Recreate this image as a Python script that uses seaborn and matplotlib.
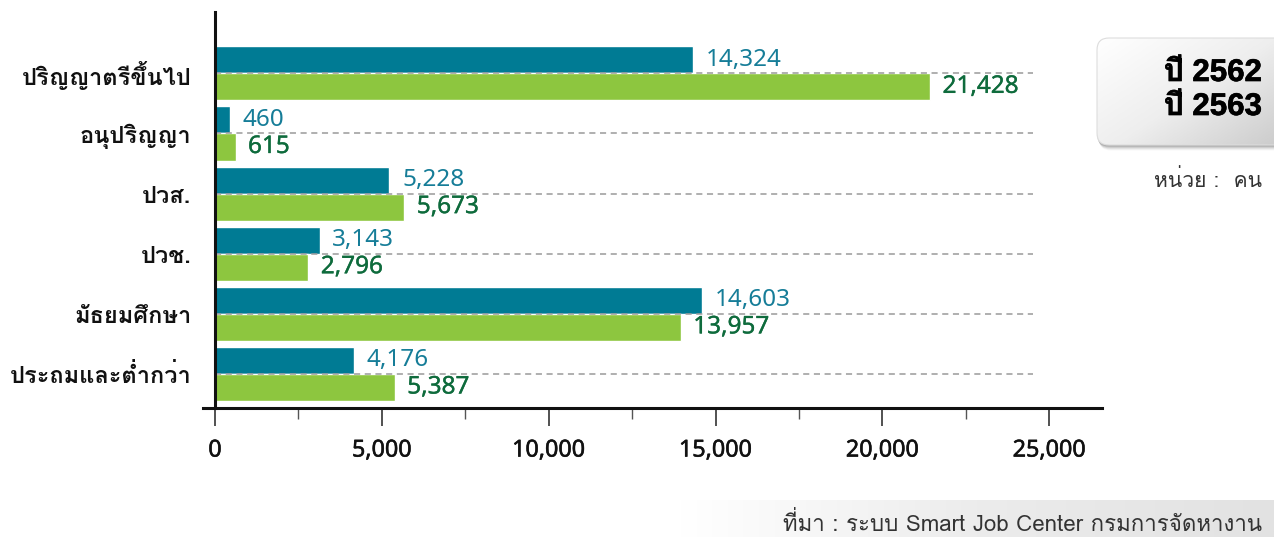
import numpy as np
import pandas as pd
import matplotlib
matplotlib.use("Agg")
import matplotlib.pyplot as plt
import seaborn as sns
from matplotlib import font_manager as fm
from matplotlib.ft2font import FT2Font
from matplotlib.ticker import MultipleLocator, FuncFormatter
from matplotlib.patches import FancyBboxPatch
from matplotlib.colors import LinearSegmentedColormap
import matplotlib.patheffects as pe

# ---------------- data ----------------
categories = ["ปริญญาตรีขึ้นไป", "อนุปริญญา", "ปวส.", "ปวช.", "มัธยมศึกษา", "ประถมและต่ำกว่า"]
years = ["ปี 2562", "ปี 2563"]
values_2562 = [14324, 460, 5228, 3143, 14603, 4176]
values_2563 = [21428, 615, 5673, 2796, 13957, 5387]
x_ticks = [0, 5000, 10000, 15000, 20000, 25000]
unit_text = "หน่วย :  คน"
source_text = "ที่มา : ระบบ Smart Job Center กรมการจัดหางาน"

# ---------------- fonts ----------------
def find_thai_font():
    prefs = ["Loma", "Tahoma", "Noto Sans Thai", "Noto Sans Thai UI", "Sarabun", "Garuda",
             "Waree", "Tlwg Typo", "Umpush", "Kinnari", "Norasi", "Laksaman", "Sawasdee", "Purisa"]
    found = {}
    for fe in fm.fontManager.ttflist:
        try:
            cmap = FT2Font(fe.fname).get_charmap()
        except Exception:
            continue
        if 0x0E1B in cmap and 0x0E35 in cmap:
            w = fe.weight if isinstance(fe.weight, int) else 400
            found.setdefault(fe.name, set()).add(w)
    with_bold = [n for n, ws in found.items() if max(ws) >= 600]
    for p in prefs:
        if p in with_bold:
            return p, True
    if with_bold:
        return with_bold[0], True
    for p in prefs:
        if p in found:
            return p, False
    return (next(iter(found)) if found else None), False

thai, thai_has_bold = find_thai_font()
thai_family = ([thai] if thai else []) + ["Noto Sans", "DejaVu Sans"]
num_family = ["Noto Sans", "DejaVu Sans"]
legend_family = ["Liberation Sans"] + ([thai] if thai else []) + ["DejaVu Sans"]

sns.set_theme(style="white")
plt.rcParams["font.family"] = thai_family

teal = "#007B94"
green = "#8DC63F"
teal_txt = "#167D98"
green_txt = "#0E6B3C"

def bold_fx(color, lw):
    if thai_has_bold:
        return []
    return [pe.withStroke(linewidth=lw, foreground=color)]

df = pd.DataFrame({
    "category": categories * 2,
    "year": [years[0]] * len(categories) + [years[1]] * len(categories),
    "value": values_2562 + values_2563,
})

W, H = 1274, 537
fig = plt.figure(figsize=(W / 100, H / 100), dpi=100)
fig.patch.set_facecolor("white")

ax_l, ax_r = 203, 1101.7
ax_t, ax_b = 11.7, 408
ax = fig.add_axes([ax_l / W, (H - ax_b) / H, (ax_r - ax_l) / W, (ax_b - ax_t) / H])

sns.barplot(data=df, y="category", x="value", hue="year", orient="h",
            palette=[teal, green], width=0.9, saturation=1, legend=False,
            ax=ax, zorder=2)

ax.set_xlim(-(215 - ax_l) / 33.37 * 1000, (ax_r - 215) / 33.37 * 1000)
ax.set_ylim(5.566, -1.025)

# dashed guide lines at the category centres
ax.hlines(range(len(categories)), 0, 24510, colors="#9a9a9a",
          linestyles=(0, (4, 3)), linewidth=1.1, zorder=3)

# value labels
for i, (cont, col) in enumerate(zip(ax.containers, [teal_txt, green_txt])):
    labels = [f"{int(b.get_width()):,}" for b in cont]
    texts = ax.bar_label(cont, labels=labels, padding=9, color=col, fontsize=17.5,
                         family=num_family, zorder=4)
    if i == 1:
        for t in texts:
            t.set_path_effects([pe.withStroke(linewidth=0.25, foreground=col)])

# spines
for s in ["top", "right"]:
    ax.spines[s].set_visible(False)
ax.spines["left"].set_position(("data", 0))
ax.spines["left"].set_linewidth(2.2)
ax.spines["left"].set_color("#111111")
ax.spines["bottom"].set_linewidth(2.2)
ax.spines["bottom"].set_color("#111111")
ax.spines["left"].set_zorder(5)

ax.set_xlabel("")
ax.set_ylabel("")
ax.set_xticks(x_ticks)
ax.xaxis.set_major_formatter(FuncFormatter(lambda v, p: f"{int(v):,}"))
ax.xaxis.set_minor_locator(MultipleLocator(2500))
ax.tick_params(axis="x", which="major", direction="out", length=13, width=1.1,
               color="#222222", pad=9, labelsize=16.8, labelcolor="#111111", bottom=True)
ax.tick_params(axis="x", which="minor", direction="out", length=8, width=1.0,
               color="#555555", bottom=True)
for lab in ax.get_xticklabels():
    lab.set_family(num_family)
    lab.set_path_effects([pe.withStroke(linewidth=0.4, foreground="#111111")])
ax.tick_params(axis="y", length=0, pad=17, labelsize=17, labelcolor="#111111")
for lab in ax.get_yticklabels():
    lab.set_fontweight("bold")
    lab.set_family(thai_family)
    lab.set_path_effects(bold_fx("#111111", 1.3))

# ---------------- legend box ----------------
bx = fig.add_axes([1085 / W, (H - 155) / H, 189 / W, 125 / H])
bx.set_xlim(0, 189)
bx.set_ylim(0, 125)
bx.axis("off")
for i, a in enumerate([0.12, 0.09, 0.07, 0.05, 0.03]):
    sh = FancyBboxPatch((12 + i * 0.5, 10 - 1.5 - i), 200, 107,
                        boxstyle="round,pad=0,rounding_size=12",
                        facecolor="#000000", edgecolor="none", alpha=a, zorder=1)
    bx.add_patch(sh)
box = FancyBboxPatch((12, 10), 200, 107, boxstyle="round,pad=0,rounding_size=12",
                     facecolor="none", edgecolor="#dddddd", linewidth=0.8, zorder=3)
bx.add_patch(box)
gx = np.linspace(0, 1, 200)
gy = np.linspace(0, 1, 120)
GX, GY = np.meshgrid(gx, gy)
grad = 0.55 * GX + 0.45 * GY
cm_box = LinearSegmentedColormap.from_list("box", ["#ffffff", "#eeeeee", "#c8c8c8"])
im = bx.imshow(grad, extent=[12, 212, 10, 117], origin="upper", cmap=cm_box,
               aspect="auto", zorder=2)
im.set_clip_path(box)

for yy, txt in [(73, years[0]), (107, years[1])]:
    t = fig.text(1262 / W, (H - yy) / H, txt, ha="right", va="center", fontsize=22.5,
                 fontweight="bold", family=legend_family, color="#000000")
    t.set_path_effects([pe.withStroke(linewidth=0.5, foreground="#000000")])
fig.text(1262 / W, (H - 180) / H, unit_text, ha="right", va="center", fontsize=15.2,
         family=thai_family, color="#333333")

# ---------------- source band ----------------
sb = fig.add_axes([680 / W, 0, (W - 680) / W, 37 / H])
sb.axis("off")
cm_band = LinearSegmentedColormap.from_list("band", ["#ffffff", "#ececec", "#e2e2e2"])
sb.imshow(np.linspace(0, 1, 256)[None, :], cmap=cm_band, aspect="auto",
          extent=[0, 1, 0, 1], zorder=0)
sb.set_xlim(0, 1)
sb.set_ylim(0, 1)
fig.text(1262 / W, (H - 524) / H, source_text, ha="right", va="center", fontsize=16,
         family=thai_family, color="#333333")

fig.savefig("out.png", dpi=100, facecolor="white")
